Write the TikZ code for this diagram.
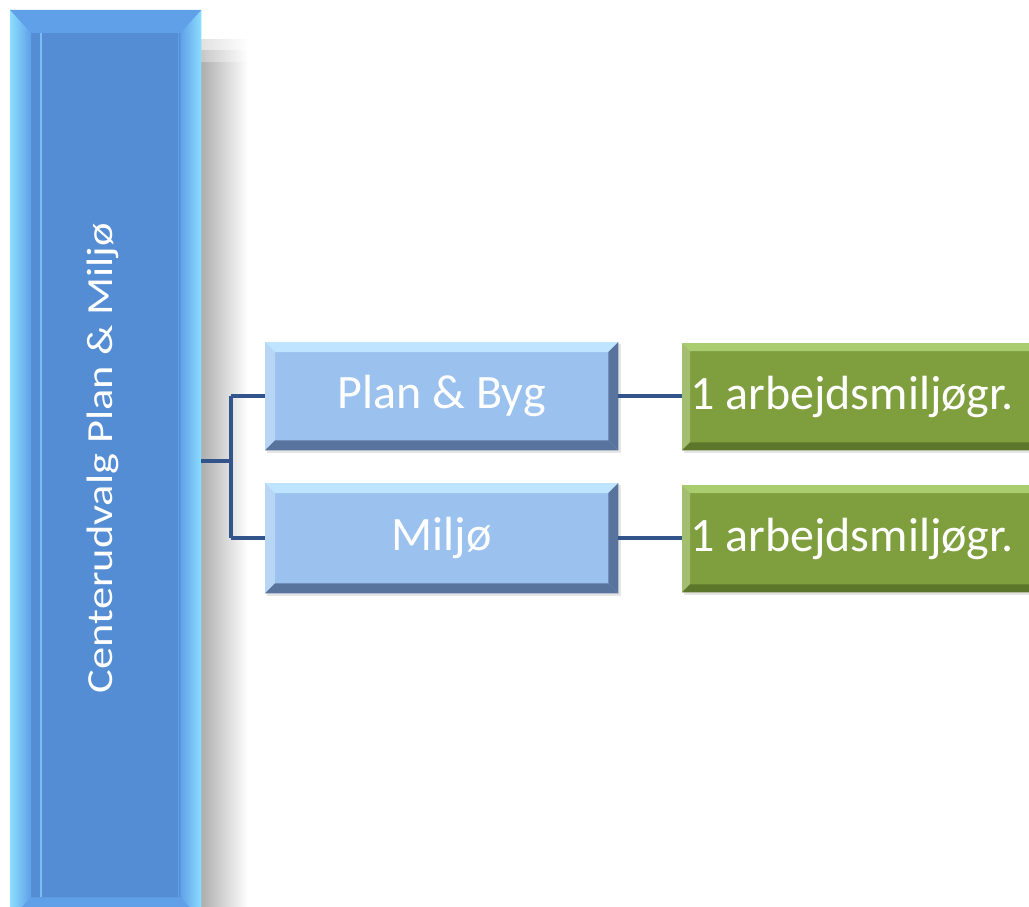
\documentclass[tikz,border=0pt]{standalone}
\usepackage{fontspec}
\setmainfont{Carlito}
\usetikzlibrary{calc}
\definecolor{bigfill}{RGB}{84,141,212}
\definecolor{bigbevel}{RGB}{96,160,232}
\definecolor{bigedge}{RGB}{140,222,255}
\definecolor{bigline}{RGB}{120,190,245}
\definecolor{bluefill}{RGB}{155,193,239}
\definecolor{bluelight}{RGB}{190,228,255}
\definecolor{bluedark}{RGB}{88,116,156}
\definecolor{greenfill}{RGB}{127,159,63}
\definecolor{greenlight}{RGB}{168,204,110}
\definecolor{greendark}{RGB}{92,118,44}
\definecolor{linkcol}{RGB}{50,84,138}
\tikzset{
  subbox/.style={fill=bluefill, minimum width=353pt, minimum height=108pt, inner sep=0pt, anchor=north west},
  leafbox/.style={fill=greenfill, minimum width=360pt, minimum height=107pt, inner sep=0pt, anchor=north west},
  boxtext/.style={text=white, font=\fontsize{48}{56}\selectfont},
  link/.style={draw=linkcol, line width=3.5pt},
}
\newcommand\mybevel[4]{%
  % #1 node name, #2 light colour, #3 dark colour, #4 bevel width
  \fill[#2] (#1.north west) -- (#1.north east) -- ($(#1.north east)+(-#4,#4)$) -- ($(#1.north west)+(#4,#4)$) -- cycle;
  \fill[#2!55!white,opacity=0.45] (#1.north west) -- ($(#1.north west)+(#4,#4)$) -- ($(#1.south west)+(#4,-#4)$) -- (#1.south west) -- cycle;
  \fill[#3] (#1.north east) -- (#1.south east) -- ($(#1.south east)+(-#4,-#4)$) -- ($(#1.north east)+(-#4,#4)$) -- cycle;
  \fill[#3] (#1.south west) -- (#1.south east) -- ($(#1.south east)+(-#4,-#4)$) -- ($(#1.south west)+(#4,-#4)$) -- cycle;
}
\begin{document}
\begin{tikzpicture}[x=1pt,y=-1pt]
\useasboundingbox (0,0) rectangle (1029,907);
\clip (0,0) rectangle (1029,907);
\fill[white] (0,0) rectangle (1029,907);
% shadow of the big box
\shade[left color=black!32, right color=white] (201,62) rectangle (248,930);
\shade[left color=black!22, right color=white] (201,50) rectangle (248,62);
\shade[left color=black!12, right color=white] (201,40) rectangle (248,50);
% big box
\node[fill=bigfill, minimum width=191pt, minimum height=910pt, inner sep=0pt, anchor=north west] (cen) at (10,10) {};
\fill[bigbevel] (cen.north west) -- (cen.north east) -- ($(cen.north east)+(-21,23)$) -- ($(cen.north west)+(21,23)$) -- cycle;
\shade[left color=bigedge, right color=bigbevel] (cen.north west) -- ($(cen.north west)+(21,23)$) -- ($(cen.south west)+(21,-23)$) -- (cen.south west) -- cycle;
\shade[left color=bigbevel, right color=bigedge] (cen.north east) -- ($(cen.north east)+(-21,23)$) -- ($(cen.south east)+(-21,-23)$) -- (cen.south east) -- cycle;
\fill[bigbevel] (cen.south west) -- (cen.south east) -- ($(cen.south east)+(-21,-23)$) -- ($(cen.south west)+(21,-23)$) -- cycle;
\draw[bigline, line width=1.5pt] ($(cen.north west)+(31,23)$) -- ($(cen.south west)+(31,-23)$);
\draw[bigbevel, line width=1pt] ($(cen.north east)+(-23,23)$) -- ($(cen.south east)+(-23,-23)$);
\node[rotate=90, text=white, inner sep=0pt] (centxt) at (103,458)
  {\scalebox{1.27}[1.05]{\fontsize{35}{42}\selectfont Centerudvalg Plan \& Miljø}};
% sub boxes
\fill[black!10] (267,344) rectangle (621,453);
\fill[black!10] (267,485) rectangle (621,596);
\node[subbox] (plan) at (265,342) {};
\mybevel{plan}{bluelight}{bluedark}{10}
\node[boxtext] (plantxt) at (plan.center) {Plan \& Byg};
\node[subbox, minimum height=110pt] (milj) at (265,483) {};
\mybevel{milj}{bluelight}{bluedark}{10}
\node[boxtext] (miljtxt) at (milj.center) {Miljø};
% leaf boxes
\fill[black!10] (684,345) rectangle (1040,453);
\fill[black!10] (684,487) rectangle (1040,595);
\node[leafbox] (g1) at (682,343) {};
\mybevel{g1}{greenlight}{greendark}{8}
\node[boxtext, anchor=west, inner sep=0pt] (g1txt) at ($(g1.west)+(8,0)$) {1 arbejdsmiljøgr.};
\node[leafbox] (g2) at (682,485) {};
\mybevel{g2}{greenlight}{greendark}{8}
\node[boxtext, anchor=west, inner sep=0pt] (g2txt) at ($(g2.west)+(8,0)$) {1 arbejdsmiljøgr.};
% connectors
\coordinate (fork) at (231,461);
\draw[link] (cen.east |- fork) -- (fork);
\draw[link] (fork |- plan.west) -- (fork |- milj.west);
\draw[link] (fork |- plan.west) -- (plan.west);
\draw[link] (fork |- milj.west) -- (milj.west);
\draw[link] (plan.east) -- (g1.west |- plan.east);
\draw[link] (milj.east) -- (g2.west |- milj.east);
\end{tikzpicture}
\end{document}
